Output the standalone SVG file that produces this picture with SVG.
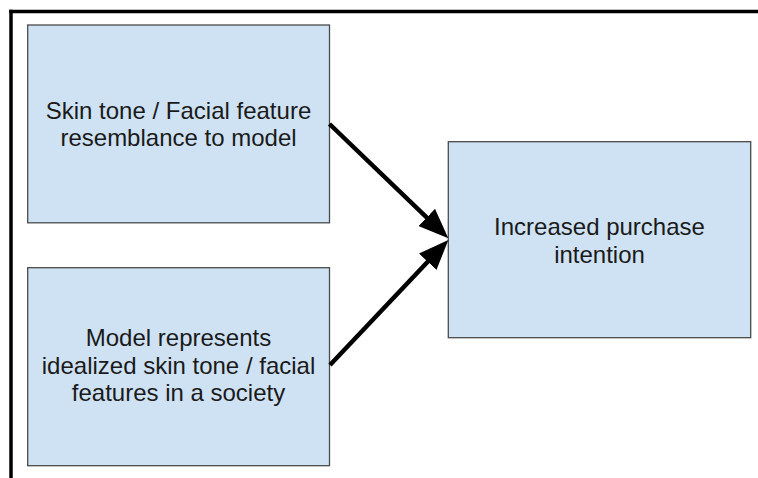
<svg xmlns="http://www.w3.org/2000/svg" width="758" height="478" viewBox="0 0 758 478">
<defs>
<style>
.box{fill:#cfe2f3;stroke:#4a4a4a;stroke-width:1.3}
.lbl{font-family:"Liberation Sans",Arial,sans-serif;font-size:24px;fill:#1a1a1a;text-anchor:middle}
.conn{stroke:#000;stroke-width:4.5;fill:none;marker-end:url(#ah)}
.frame{stroke:#000;stroke-width:3.5;fill:none}
</style>
<marker id="ah" markerUnits="userSpaceOnUse" markerWidth="30" markerHeight="24" refX="10" refY="12" orient="auto" viewBox="0 0 30 24">
<path d="M0,0 L30,12 L0,24 z" fill="#000"/>
</marker>
</defs>
<rect width="758" height="478" fill="#fff"/>
<line class="frame" x1="11" y1="9.75" x2="11" y2="478"/>
<line class="frame" x1="9.25" y1="11.5" x2="758" y2="11.5"/>
<g id="node-resemblance">
<rect class="box" x="27.7" y="25" width="301.8" height="197.8"/>
<text class="lbl" x="178.5" y="118.5">Skin tone / Facial feature</text>
<text class="lbl" x="178.5" y="146">resemblance to model</text>
</g>
<g id="node-idealized">
<rect class="box" x="27.7" y="267.7" width="301.8" height="198"/>
<text class="lbl" x="178.5" y="346">Model represents</text>
<text class="lbl" x="178.5" y="373.5">idealized skin tone / facial</text>
<text class="lbl" x="178.5" y="401">features in a society</text>
</g>
<g id="node-intention">
<rect class="box" x="448.3" y="141.7" width="302.4" height="196"/>
<text class="lbl" x="599.5" y="235">Increased purchase</text>
<text class="lbl" x="599.5" y="262.5">intention</text>
</g>
<g id="connectors">
<line class="conn" x1="329.5" y1="124" x2="433.9" y2="224.4"/>
<line class="conn" x1="330" y1="365" x2="434.6" y2="254.5"/>
</g>
</svg>
